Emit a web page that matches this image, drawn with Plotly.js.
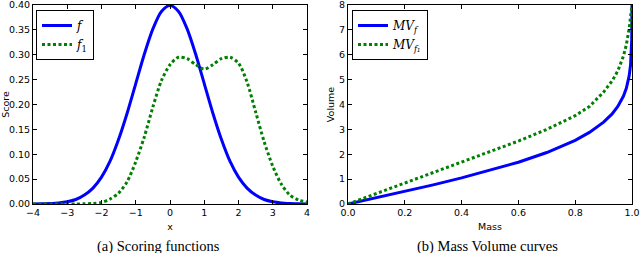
<!DOCTYPE html>
<html>
<head>
<meta charset="utf-8">
<script src="https://cdn.plot.ly/plotly-3.0.1.min.js"></script>
<style>
html,body{margin:0;padding:0;background:#fff;}
#chart{width:640px;height:253px;}
</style>
</head>
<body>
<div id="chart"></div>
<script>
// ---- Data ----
const xScore = [-4,-3.75,-3.5,-3.25,-3,-2.75,-2.5,-2.25,-2,-1.75,-1.5,-1.25,-1,-0.75,-0.5,-0.25,0,0.25,0.5,0.75,1,1.25,1.5,1.75,2,2.25,2.5,2.75,3,3.25,3.5,3.75,4];
const scoreF  = [0.0001,0.0004,0.0009,0.002,0.0044,0.009,0.018,0.032,0.054,0.086,0.130,0.183,0.242,0.301,0.352,0.387,0.399,0.387,0.352,0.301,0.242,0.183,0.130,0.086,0.054,0.032,0.018,0.009,0.0044,0.002,0.0009,0.0004,0.0001];
const scoreF1 = [0,0,0,0,0,0,0.0005,0.001,0.003,0.010,0.022,0.045,0.085,0.135,0.195,0.248,0.280,0.295,0.292,0.280,0.271,0.280,0.292,0.295,0.283,0.245,0.185,0.125,0.076,0.040,0.018,0.008,0.004];

const mass    = [0,0.05,0.1,0.2,0.3,0.4,0.5,0.6,0.7,0.8,0.85,0.9,0.93,0.95,0.97,0.98,0.99,0.995,0.999,1.0];
const volF    = [0,0.125,0.25,0.51,0.77,1.05,1.35,1.68,2.07,2.56,2.88,3.29,3.62,3.92,4.34,4.65,5.15,5.6,6.6,8.0];
const volF1   = [0,0.21,0.42,0.85,1.26,1.67,2.08,2.53,3.00,3.55,3.92,4.50,4.95,5.35,5.95,6.40,7.05,7.55,7.85,8.0];

const xTicks  = [-4,-3,-2,-1,0,1,2,3,4];
const captions = ["(a) Scoring functions", "(b) Mass Volume curves"];
const names = ["<i>f</i>", "<i>f</i><sub>1</sub>", "<i>MV<sub>f</sub></i>", "<i>MV<sub>f₁</sub></i>"];

// ---- Styles ----
const BLUE = "#0000ff", GREEN = "#008000";
const DOT = "3px,2.5px";
const TF = 9.5;
const tickFont = {family: "DejaVu Sans", size: TF, color: "#000"};
const titleFont = {family: "DejaVu Sans", size: TF, color: "#000"};
const legFont = {family: "DejaVu Serif", size: 12, color: "#000"};
const capFont = {family: "Liberation Serif", size: 14.5, color: "#000"};

const traces = [
  {x: xScore, y: scoreF, name: names[0], mode: "lines", line: {color: BLUE, width: 3, shape: "spline", smoothing: 0.8}, xaxis: "x", yaxis: "y", legend: "legend"},
  {x: xScore, y: scoreF1, name: names[1], mode: "lines", line: {color: GREEN, width: 3, dash: DOT, shape: "spline", smoothing: 0.8}, xaxis: "x", yaxis: "y", legend: "legend"},
  {x: mass, y: volF, name: names[2], mode: "lines", line: {color: BLUE, width: 3}, xaxis: "x2", yaxis: "y2", legend: "legend2"},
  {x: mass, y: volF1, name: names[3], mode: "lines", line: {color: GREEN, width: 3, dash: DOT}, xaxis: "x2", yaxis: "y2", legend: "legend2"}
];

function axis(extra){
  return Object.assign({
    showline: true, linecolor: "#000", linewidth: 1, mirror: "ticks",
    ticks: "inside", ticklen: 4, tickwidth: 1, tickcolor: "#000",
    showgrid: false, zeroline: false, automargin: false,
    ticklabeloverflow: "allow",
    tickfont: tickFont
  }, extra);
}

const W = 640, H = 253;
const yDom = [(H-204)/H, (H-5)/H];

const layout = {
  width: W, height: H,
  margin: {l: 0, r: 0, t: 0, b: 0},
  paper_bgcolor: "#fff", plot_bgcolor: "#fff",
  showlegend: true,
  xaxis: axis({domain: [33/W, 307/W], range: [-4, 4], tickvals: xTicks, anchor: "y",
    title: {text: "x", font: titleFont, standoff: 5}}),
  yaxis: axis({domain: yDom, range: [0, 0.4], dtick: 0.05, tickformat: ".2f", anchor: "x",
    title: {text: "Score", font: titleFont, standoff: 2}}),
  xaxis2: axis({domain: [348/W, 632/W], range: [0, 1], dtick: 0.2, tickformat: ".1f", anchor: "y2",
    title: {text: "Mass", font: titleFont, standoff: 5}}),
  yaxis2: axis({domain: yDom, range: [0, 8], dtick: 1, anchor: "x2",
    title: {text: "Volume", font: titleFont, standoff: 2}}),
  legend: {x: 36/W, y: 1 - 10/H, xanchor: "left", yanchor: "top", bgcolor: "#fff",
    bordercolor: "#000", borderwidth: 1, font: legFont},
  legend2: {x: 352/W, y: 1 - 10/H, xanchor: "left", yanchor: "top", bgcolor: "#fff",
    bordercolor: "#000", borderwidth: 1, font: legFont},
  annotations: [
    {text: captions[0], xref: "paper", yref: "paper", x: 158/W, y: (H-246.5)/H, xanchor: "center", yanchor: "middle", showarrow: false, font: capFont},
    {text: captions[1], xref: "paper", yref: "paper", x: 487/W, y: (H-246.5)/H, xanchor: "center", yanchor: "middle", showarrow: false, font: capFont}
  ]
};

Plotly.newPlot("chart", traces, layout, {staticPlot: true, displayModeBar: false});
</script>
</body>
</html>
